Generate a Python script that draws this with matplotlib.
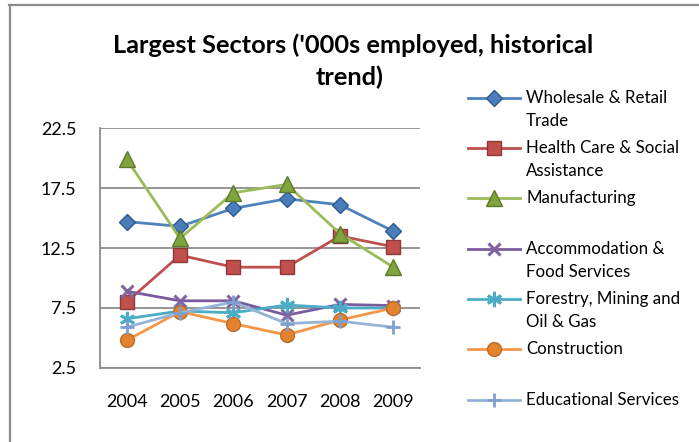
import matplotlib
matplotlib.use("Agg")
import matplotlib.pyplot as plt
from matplotlib.lines import Line2D

plt.rcParams['font.family'] = ['Lato', 'DejaVu Sans']

years = ["2004", "2005", "2006", "2007", "2008", "2009"]
wholesale = [14.7, 14.3, 15.8, 16.6, 16.1, 13.9]
health = [8.0, 11.9, 10.9, 10.9, 13.5, 12.6]
manufacturing = [19.9, 13.3, 17.1, 17.8, 13.7, 10.9]
accommodation = [8.9, 8.1, 8.1, 6.9, 7.8, 7.7]
forestry = [6.6, 7.25, 7.1, 7.75, 7.5, 7.5]
construction = [4.8, 7.2, 6.2, 5.25, 6.5, 7.5]
educational = [5.9, 7.1, 8.0, 6.2, 6.4, 5.9]

y_ticks = [2.5, 7.5, 12.5, 17.5, 22.5]

series = [
    ("Wholesale & Retail\nTrade", wholesale, "#4F81BD", "D", "#4A7DBA", "#2F5A8E", 8.5, 1.0),
    ("Health Care & Social\nAssistance", health, "#C0504D", "s", "#C0504D", "#8C3836", 10, 1.0),
    ("Manufacturing", manufacturing, "#9BBB59", "^", "#7FA33D", "#5E7A2C", 11, 1.0),
    ("Accommodation &\nFood Services", accommodation, "#7A5C9E", "x", "#9A80BF", "#8064A2", 9, 2.2),
    ("Forestry, Mining and\nOil & Gas", forestry, "#4BACC6", (6, 2, 0), "#4BACC6", "#4BACC6", 11, 2.0),
    ("Construction", construction, "#F79646", "o", "#E5822E", "#B66D31", 10, 1.0),
    ("Educational Services", educational, "#95B3D7", "+", "#7F9FCF", "#7F9FCF", 10, 2.0),
]

W, H = 699, 442
fig = plt.figure(figsize=(W / 100, H / 100), dpi=100)


def fx(px):
    return px / W


def fy(py):
    return 1 - py / H


ax = fig.add_axes([fx(100), fy(368), (420 - 100) / W, (368 - 128) / H])

x = list(range(len(years)))
for label, vals, color, marker, mfc, mec, ms, mew in series:
    ax.plot(x, vals, color=color, lw=2.0, marker=marker, ms=ms,
            mfc=mfc, mec=mec, mew=mew, zorder=3)

ax.set_xlim(-0.5, len(years) - 0.5)
ax.set_ylim(2.5, 22.5)
ax.set_xticks(x)
ax.set_xticklabels(years)
ax.set_yticks(y_ticks)
ax.set_yticklabels([f"{v:.1f}" for v in y_ticks])
ax.tick_params(axis="both", length=0, labelsize=13, colors="#000000")
ax.tick_params(axis="y", pad=17)
ax.tick_params(axis="x", pad=19)
ax.grid(axis="y", color="#8C8C8C", lw=1.3)
ax.set_axisbelow(True)
for side in ("top", "right"):
    ax.spines[side].set_visible(False)
for side in ("left", "bottom"):
    ax.spines[side].set_color("#8C8C8C")
    ax.spines[side].set_linewidth(1.3)

# title
fig.text(fx(353), fy(45), "Largest Sectors ('000s employed, historical",
         ha="center", va="center", fontsize=18.3, fontweight="bold")
fig.text(fx(350), fy(77), "trend)", ha="center", va="center",
         fontsize=18.3, fontweight="bold")

# legend
entry_y = [98, 148, 198, 249, 299, 349, 400]
for (label, vals, color, marker, mfc, mec, ms, mew), yy in zip(series, entry_y):
    fig.add_artist(Line2D([fx(468), fx(520)], [fy(yy), fy(yy)], color=color,
                          lw=2.0, transform=fig.transFigure))
    fig.add_artist(Line2D([fx(494)], [fy(yy)], marker=marker, ms=ms, mfc=mfc,
                          mec=mec, mew=mew, transform=fig.transFigure))
    for k, line in enumerate(label.split("\n")):
        fig.text(fx(526), fy(yy + 23 * k), line, ha="left", va="center",
                 fontsize=12.2)

# chart frame
fig.add_artist(Line2D([fx(9), fx(699)], [fy(4.5), fy(4.5)], color="#8C8C8C",
                      lw=1.6, transform=fig.transFigure))
fig.add_artist(Line2D([fx(9.5), fx(9.5)], [fy(4.5), fy(442)], color="#8C8C8C",
                      lw=1.6, transform=fig.transFigure))

fig.savefig("out.png", dpi=100, facecolor="white")
